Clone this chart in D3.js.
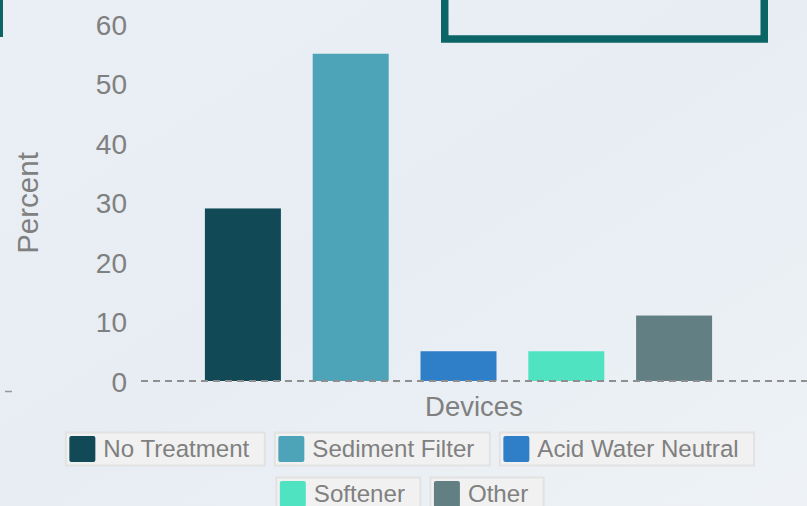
<!DOCTYPE html>
<html>
<head>
<meta charset="utf-8">
<script src="https://cdn.jsdelivr.net/npm/d3@7/dist/d3.min.js"></script>
<style>
  html, body { margin: 0; padding: 0; overflow: hidden; }
  body { width: 807px; height: 506px; }
  text { font-family: "Liberation Sans", Arial, Helvetica, sans-serif; }
</style>
</head>
<body>
<svg id="chart" width="807" height="506"></svg>
<script>
// ---- data ----
const categories = ["No Treatment", "Sediment Filter", "Acid Water Neutral", "Softener", "Other"];
const values = [29, 55, 5, 5, 11];
const colors = ["#114a56", "#4da3b8", "#2f7fc8", "#4fe3c2", "#628084"];
const yTicks = [0, 10, 20, 30, 40, 50, 60];
const xTitle = "Devices";
const yTitle = "Percent";

const svg = d3.select("#chart");
const W = 807, H = 506;

// background gradient
const defs = svg.append("defs");
const grad = defs.append("linearGradient").attr("id", "bg")
  .attr("x1", "0").attr("y1", "0").attr("x2", "1").attr("y2", "1");
grad.append("stop").attr("offset", "0").attr("stop-color", "#e9eff4");
grad.append("stop").attr("offset", "0.5").attr("stop-color", "#e7edf3");
grad.append("stop").attr("offset", "1").attr("stop-color", "#eef2f6");
svg.append("rect").attr("width", W).attr("height", H).attr("fill", "url(#bg)");

// decorative frames (partially visible)
svg.append("rect").attr("x", 444.75).attr("y", -40).attr("width", 319.5).attr("height", 79)
  .attr("fill", "none").attr("stroke", "#0b6466").attr("stroke-width", 7.5);
svg.append("rect").attr("x", 0).attr("y", 0).attr("width", 3).attr("height", 37).attr("fill", "#0b6466");
svg.append("line").attr("x1", 5).attr("x2", 12).attr("y1", 391.5).attr("y2", 391.5)
  .attr("stroke", "#999").attr("stroke-width", 1.5);

// scales
const y = d3.scaleLinear().domain([0, 60]).range([381, 24]);
const x = d3.scaleBand().domain(categories).range([189, 728])
  .paddingInner(0.295).paddingOuter(0.1475);

const textColor = "#808080";

// y tick labels
const yAxis = d3.axisLeft(y).tickValues(yTicks).tickSize(0).tickPadding(0);
const gy = svg.append("g").attr("transform", "translate(127,0)").call(yAxis);
gy.select(".domain").remove();
gy.selectAll("text").attr("fill", textColor).style("font-size", "28px")
  .style("font-family", "'Liberation Sans', Arial, sans-serif").attr("dy", "0.36em");

// bars
svg.append("g").selectAll("rect").data(categories).join("rect")
  .attr("x", d => x(d)).attr("width", x.bandwidth())
  .attr("y", (d, i) => y(values[i])).attr("height", (d, i) => y(0) - y(values[i]))
  .attr("fill", (d, i) => colors[i]);

// baseline dashed
svg.append("line").attr("x1", 141).attr("x2", W).attr("y1", y(0)).attr("y2", y(0))
  .attr("stroke", "#8f8f8f").attr("stroke-width", 2).attr("stroke-dasharray", "7,5");

// axis titles
svg.append("text").attr("x", 474).attr("y", 416).attr("text-anchor", "middle")
  .attr("fill", textColor).style("font-size", "27.5px").text(xTitle);
svg.append("text").attr("transform", "translate(38,203) rotate(-90)").attr("text-anchor", "middle")
  .attr("fill", textColor).style("font-size", "29.5px").text(yTitle);

// legend
const rows = [[0, 1, 2], [3, 4]];
const rowY = [432, 477];
const gap = 9, pad = 4, sw = 26, tg = 8, pr = 16, bh = 34;
const lfs = "24.1px";
const lg = svg.append("g");
rows.forEach((row, r) => {
  const items = row.map(i => {
    const t = lg.append("text").style("font-size", lfs).text(categories[i]);
    const w = t.node().getComputedTextLength();
    t.remove();
    return { i, w: pad + sw + tg + w + pr };
  });
  const total = d3.sum(items, d => d.w) + gap * (items.length - 1);
  let cx = 410 - total / 2;
  items.forEach(it => {
    const g = lg.append("g").attr("transform", `translate(${cx},${rowY[r]})`);
    g.append("rect").attr("x", 0.5).attr("y", 0.5).attr("width", it.w - 1).attr("height", bh - 1)
      .attr("fill", "#f1f1f1").attr("stroke", "#e2e2e2").attr("stroke-width", 2);
    g.append("rect").attr("x", pad).attr("y", 4).attr("width", sw).attr("height", sw)
      .attr("rx", 2).attr("fill", colors[it.i]);
    g.append("text").attr("x", pad + sw + tg).attr("y", 17).attr("dy", "0.35em")
      .attr("fill", textColor).style("font-size", lfs).text(categories[it.i]);
    cx += it.w + gap;
  });
});
</script>
</body>
</html>
